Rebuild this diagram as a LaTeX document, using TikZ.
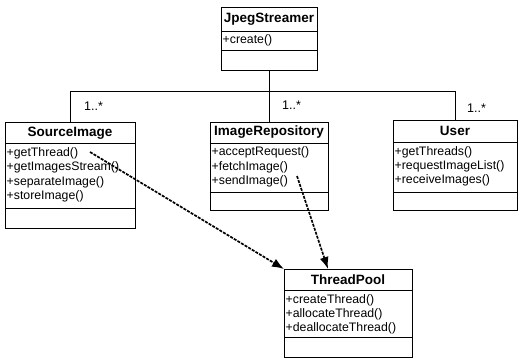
\documentclass[tikz,border=0pt]{standalone}
\usepackage{fontspec}
\setmainfont{Liberation Sans}
\usetikzlibrary{arrows.meta,calc}
\tikzset{
  classbox/.style={draw, line width=0.9pt, anchor=north west, inner sep=0pt, outer sep=0pt},
  ctitle/.style={font=\fontsize{13.5}{15}\selectfont\bfseries, inner sep=0pt},
  meth/.style={font=\fontsize{12.3}{14}\selectfont, anchor=west, inner sep=0pt},
  mult/.style={font=\fontsize{12.5}{14}\selectfont, anchor=west, inner sep=0pt},
  divider/.style={line width=0.9pt},
  assoc/.style={line width=1pt},
  depend/.style={line width=1.7pt, dash pattern=on 3pt off 1.2pt, -{Latex[length=12pt,width=9pt]}},
}
\begin{document}
\begin{tikzpicture}[x=1pt,y=-1pt]
\useasboundingbox (0,0) rectangle (518,358);

% JpegStreamer
\node[classbox, minimum width=96pt, minimum height=63pt] (js) at (221,7) {};
\draw[divider] (221,31) -- (317,31);
\draw[divider] (221,50) -- (317,50);
\node[ctitle] (jst) at (269,19) {JpegStreamer};
\node[meth] (jsm1) at (222.5,40.5) {+create()};

% SourceImage
\node[classbox, minimum width=130pt, minimum height=106pt] (si) at (5,122) {};
\draw[divider] (5,143) -- (135,143);
\draw[divider] (5,208) -- (135,208);
\node[ctitle] (sit) at (70,133) {SourceImage};
\node[meth] (sim1) at (6.5,153) {+getThread()};
\node[meth] (sim2) at (6.5,167.5) {+getImagesStream()};
\node[meth] (sim3) at (6.5,182) {+separateImage()};
\node[meth] (sim4) at (6.5,196.5) {+storeImage()};

% ImageRepository
\node[classbox, minimum width=118pt, minimum height=88pt] (ir) at (210,122) {};
\draw[divider] (210,143) -- (328,143);
\draw[divider] (210,192) -- (328,192);
\node[ctitle] (irt) at (269,132.5) {ImageRepository};
\node[meth] (irm1) at (211.5,152.5) {+acceptRequest()};
\node[meth] (irm2) at (211.5,167) {+fetchImage()};
\node[meth] (irm3) at (211.5,181.5) {+sendImage()};

% User
\node[classbox, minimum width=124pt, minimum height=90pt] (us) at (393,120) {};
\draw[divider] (393,142) -- (517,142);
\draw[divider] (393,192) -- (517,192);
\node[ctitle] (ust) at (455,131) {User};
\node[meth] (usm1) at (394.5,152) {+getThreads()};
\node[meth] (usm2) at (394.5,166) {+requestImageList()};
\node[meth] (usm3) at (394.5,180) {+receiveImages()};

% ThreadPool
\node[classbox, minimum width=128pt, minimum height=88pt] (tp) at (284,269) {};
\draw[divider] (284,290) -- (412,290);
\draw[divider] (284,337) -- (412,337);
\node[ctitle] (tpt) at (348,279.5) {ThreadPool};
\node[meth] (tpm1) at (285.5,300) {+createThread()};
\node[meth] (tpm2) at (285.5,314) {+allocateThread()};
\node[meth] (tpm3) at (285.5,328) {+deallocateThread()};

% associations
\draw[assoc] (js.south) -- (ir.north);
\draw[assoc] (si.north) -- ++(0,-30) -| (us.north);

\node[mult] (l1) at (84,106) {1..*};
\node[mult] (l2) at (282,105) {1..*};
\node[mult] (l3) at (467,108) {1..*};

% dependencies
\coordinate (d1) at (90,152);
\coordinate (d2) at (297,176);
\coordinate (t2) at ($(tp.north west)+(44,0)$);
\draw[depend] (d1) -- (tp.north west);
\draw[depend] (d2) -- (t2);
\end{tikzpicture}
\end{document}
